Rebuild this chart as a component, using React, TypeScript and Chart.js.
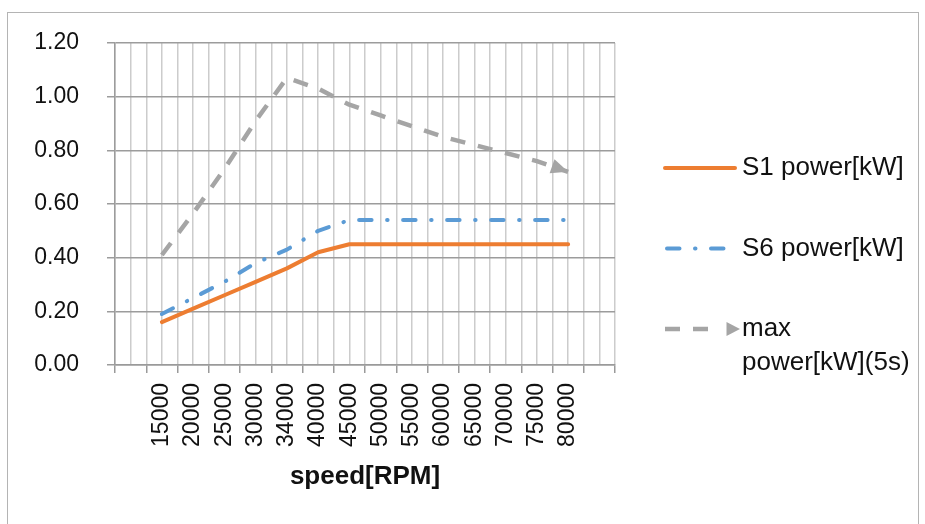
import React, { useEffect, useRef } from 'react';
import { Chart, registerables } from 'chart.js';

Chart.register(...registerables);

// ---- data ----
const categories = ['', '15000', '20000', '25000', '30000', '34000', '40000', '45000', '50000', '55000', '60000', '65000', '70000', '75000', '80000', ''];
const s1Power = [null, 0.16, 0.21, 0.26, 0.31, 0.36, 0.42, 0.45, 0.45, 0.45, 0.45, 0.45, 0.45, 0.45, 0.45, null];
const s6Power = [null, 0.19, 0.25, 0.31, 0.38, 0.43, 0.5, 0.54, 0.54, 0.54, 0.54, 0.54, 0.54, 0.54, 0.54, null];
const maxPower = [null, 0.41, 0.565, 0.73, 0.91, 1.07, 1.03, 0.97, 0.93, 0.89, 0.85, 0.82, 0.79, 0.76, 0.72, null];
const seriesLabels = ['S1 power[kW]', 'S6 power[kW]', 'max power[kW](5s)'];
const xTitle = 'speed[RPM]';
const yMin = 0;
const yMax = 1.2;
const yStep = 0.2;

const FONT = "'Liberation Sans', Arial, sans-serif";
const TEXT = '#111111';
const ORANGE = '#ED7D31';
const BLUE = '#5B9BD5';
const GRAY = '#A5A5A5';
const DASH_DOT = [12.5, 15.5, 0.5, 15.5];
const DASH = [15, 13];

function drawTriangle(ctx: CanvasRenderingContext2D, tipX: number, tipY: number, angle: number, len: number, half: number) {
  const bx = tipX - Math.cos(angle) * len;
  const by = tipY - Math.sin(angle) * len;
  const px = -Math.sin(angle) * half;
  const py = Math.cos(angle) * half;
  ctx.beginPath();
  ctx.moveTo(tipX, tipY);
  ctx.lineTo(bx + px, by + py);
  ctx.lineTo(bx - px, by - py);
  ctx.closePath();
  ctx.fill();
}

const decorPlugin = {
  id: 'decor',
  beforeDraw(chart: any) {
    const ctx = chart.ctx as CanvasRenderingContext2D;
    ctx.save();
    ctx.strokeStyle = '#b4b4b4';
    ctx.lineWidth = 1;
    ctx.strokeRect(7.5, 12.5, 911, 600);
    ctx.restore();
  },
  afterDatasetsDraw(chart: any) {
    const ctx = chart.ctx as CanvasRenderingContext2D;
    const meta = chart.getDatasetMeta(2);
    const data = chart.data.datasets[2].data;
    let last = -1;
    for (let i = data.length - 1; i >= 0; i--) {
      if (data[i] !== null) { last = i; break; }
    }
    if (last < 1) return;
    const p = meta.data[last];
    const q = meta.data[last - 1];
    const ang = Math.atan2(p.y - q.y, p.x - q.x);
    ctx.save();
    ctx.fillStyle = GRAY;
    drawTriangle(ctx, p.x, p.y, ang, 17, 7.5);
    ctx.restore();
  },
  afterDraw(chart: any) {
    const ctx = chart.ctx as CanvasRenderingContext2D;
    const area = chart.chartArea;
    const x0 = area.right + 50;
    const x1 = x0 + 70;
    const tx = x0 + 77;
    const maxW = 178;
    const lineH = 34;
    ctx.save();
    ctx.font = `26px ${FONT}`;
    ctx.textBaseline = 'middle';
    ctx.textAlign = 'left';
    chart.data.datasets.forEach((ds: any, i: number) => {
      const y = 168 + i * 80.5;
      ctx.save();
      ctx.strokeStyle = ds.borderColor;
      ctx.lineWidth = ds.borderWidth;
      ctx.lineCap = ds.borderCapStyle || 'butt';
      ctx.setLineDash(ds.borderDash || []);
      ctx.beginPath();
      if (i === 2) {
        ctx.moveTo(x0, y);
        ctx.lineTo(x0 + 43, y);
        ctx.stroke();
        ctx.fillStyle = ds.borderColor;
        drawTriangle(ctx, x0 + 75, y, 0, 13.5, 7);
      } else {
        ctx.moveTo(x0 + (i === 1 ? 2 : 0), y);
        ctx.lineTo(x1, y);
        ctx.stroke();
      }
      ctx.restore();
      // wrap text
      const words = String(ds.label).split(' ');
      const lines: string[] = [];
      let cur = '';
      words.forEach((w) => {
        const test = cur ? cur + ' ' + w : w;
        if (cur && ctx.measureText(test).width > maxW) {
          lines.push(cur);
          cur = w;
        } else {
          cur = test;
        }
      });
      if (cur) lines.push(cur);
      ctx.fillStyle = TEXT;
      lines.forEach((ln, k) => ctx.fillText(ln, tx, y + k * lineH));
    });
    ctx.restore();
  },
};

export default function App() {
  const ref = useRef<HTMLCanvasElement | null>(null);
  useEffect(() => {
    if (!ref.current) return;
    Chart.defaults.font.family = FONT;
    const chart = new Chart(ref.current, {
      type: 'line',
      data: {
        labels: categories,
        datasets: [
          {
            label: seriesLabels[0],
            data: s1Power,
            borderColor: ORANGE,
            backgroundColor: ORANGE,
            borderWidth: 4,
            pointRadius: 0,
            borderJoinStyle: 'round',
            borderCapStyle: 'round',
          },
          {
            label: seriesLabels[1],
            data: s6Power,
            borderColor: BLUE,
            backgroundColor: BLUE,
            borderWidth: 4,
            pointRadius: 0,
            borderDash: DASH_DOT,
            borderCapStyle: 'round',
            borderJoinStyle: 'round',
          },
          {
            label: seriesLabels[2],
            data: maxPower,
            borderColor: GRAY,
            backgroundColor: GRAY,
            borderWidth: 4.5,
            pointRadius: 0,
            borderDash: DASH,
            borderCapStyle: 'butt',
            borderJoinStyle: 'round',
          },
        ] as any,
      },
      options: {
        animation: false,
        responsive: false,
        devicePixelRatio: 1,
        layout: { padding: { left: 0, top: 43, right: 310, bottom: 32 } },
        plugins: { legend: { display: false }, tooltip: { enabled: false } },
        scales: {
          x: {
            type: 'category',
            position: 'bottom',
            offset: true,
            grid: { offset: true, color: '#cccccc', lineWidth: 1.5, tickColor: '#9a9a9a', tickLength: 8, tickWidth: 1.5 },
            border: { color: '#9a9a9a', width: 1.5 },
            ticks: { minRotation: 90, maxRotation: 90, autoSkip: false, padding: 10, color: TEXT, font: { size: 23 } },
            title: { display: true, text: xTitle, color: TEXT, font: { size: 26, weight: 'bold' }, padding: 0 },
            afterFit: (s: any) => { s.height = 127; },
          },
          xMinor: {
            type: 'category',
            position: 'top',
            offset: true,
            grid: { offset: false, color: '#cccccc', lineWidth: 1.5, drawTicks: false },
            border: { display: false },
            ticks: { display: false },
            afterFit: (s: any) => { s.height = 0; },
          },
          y: {
            min: yMin,
            max: yMax,
            grid: { color: '#9c9c9c', lineWidth: 1.5, tickColor: '#9c9c9c', tickLength: 8 },
            border: { color: '#9c9c9c', width: 1.5 },
            ticks: {
              stepSize: yStep,
              padding: 28,
              color: TEXT,
              font: { size: 23 },
              callback: (v: any) => Number(v).toFixed(2),
            },
            afterFit: (s: any) => { s.width = 115; },
          },
        } as any,
      },
      plugins: [decorPlugin],
    });
    return () => chart.destroy();
  }, []);
  return (
    <div style={{ position: 'absolute', left: 0, top: 0, width: 925, height: 524, overflow: 'hidden', background: '#fff' }}>
      <canvas ref={ref} width={925} height={524} style={{ width: 925, height: 524, display: 'block' }} />
    </div>
  );
}
